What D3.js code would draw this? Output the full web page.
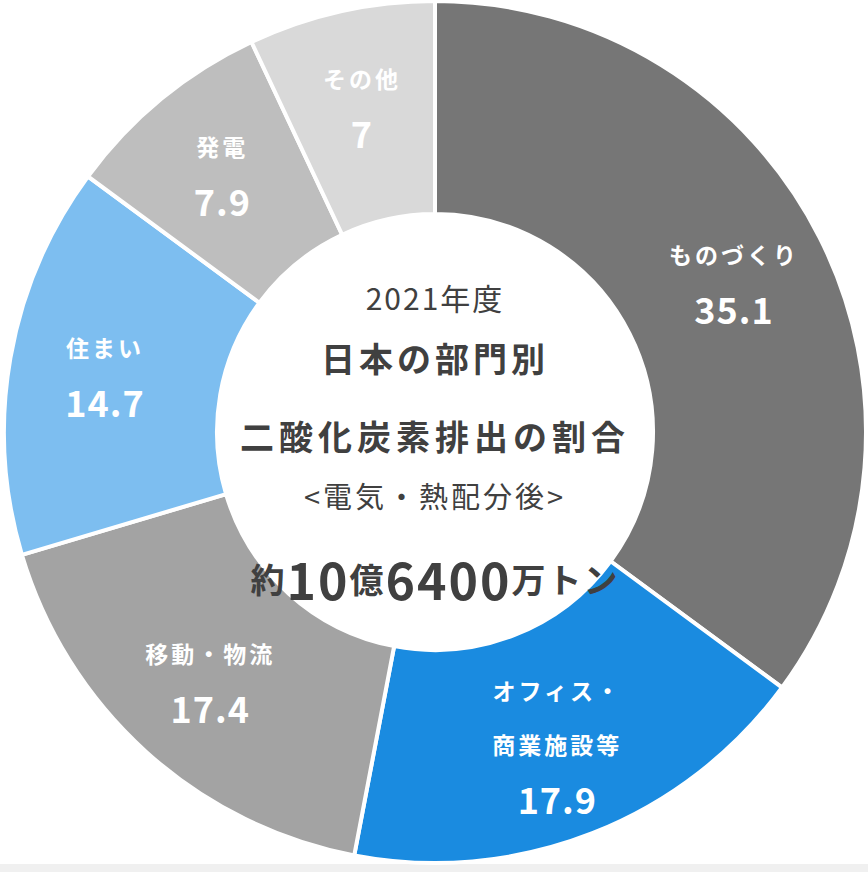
<!DOCTYPE html>
<html><head><meta charset="utf-8">
<script src="https://cdn.jsdelivr.net/npm/d3@7"></script>
<style>body{margin:0;background:#fff}svg{display:block}</style>
</head><body>
<svg id="c" width="868" height="872"></svg>
<script>
const names = [["ものづくり"],["オフィス・","商業施設等"],["移動・物流"],["住まい"],["発電"],["その他"]];
const values = [35.1,17.9,17.4,14.7,7.9,7];
const colors = ["#767676","#1a8be0","#a3a3a3","#7dbef0","#bebebe","#d9d9d9"];
const svg = d3.select("#c");
svg.append("rect").attr("x",0).attr("y",864).attr("width",868).attr("height",8).attr("fill","#f0f0f0");
const cx=435, cy=432, R=431, r0=218;
const g = svg.append("g").attr("transform",`translate(${cx},${cy})`);
const pie = d3.pie().sort(null).value(d=>d)(values);
const arc = d3.arc().innerRadius(r0).outerRadius(R);
g.selectAll("path").data(pie).join("path").attr("d",arc)
  .attr("fill",(d,i)=>colors[i]).attr("stroke","#fff").attr("stroke-width",4);
const lab = d3.arc().innerRadius(335).outerRadius(335);
const font="'Noto Sans CJK JP','Noto Sans',sans-serif";
pie.forEach((d,i)=>{
  const [x,y]=lab.centroid(d);
  const lines=names[i];
  const n=lines.length+1, step=54;
  const y0=y-(n-1)*step/2;
  lines.forEach((t,k)=>g.append("text").attr("x",x).attr("y",y0+k*step).attr("text-anchor","middle")
    .attr("dominant-baseline","central").attr("fill","#fff").attr("font-family",font)
    .attr("font-weight","bold").attr("font-size",23).attr("letter-spacing",3).text(t));
  g.append("text").attr("x",x).attr("y",y0+lines.length*step).attr("text-anchor","middle")
    .attr("dominant-baseline","central").attr("fill","#fff").attr("font-family",font)
    .attr("font-weight","bold").attr("font-size",36).attr("letter-spacing",1).text(values[i]);
});
const ct=[["2021年度",297,30,"normal",2],["日本の部門別",357,34,"bold",4],["二酸化炭素排出の割合",435,34,"bold",5],["<電気・熱配分後>",495,29,"normal",3]];
ct.forEach(([t,y,s,w,ls])=>svg.append("text").attr("x",cx).attr("y",y).attr("text-anchor","middle")
  .attr("dominant-baseline","central").attr("fill","#404040").attr("font-family",font)
  .attr("font-size",s).attr("font-weight",w).attr("letter-spacing",ls).text(t));
const tt=svg.append("text").attr("x",cx).attr("y",578).attr("text-anchor","middle")
  .attr("dominant-baseline","central").attr("fill","#404040").attr("font-family",font).attr("font-weight","bold").attr("letter-spacing",2);
[["約",34],["10",50],["億",34],["6400",50],["万トン",34]].forEach(([t,s])=>tt.append("tspan").attr("font-size",s).text(t));
</script></body></html>
